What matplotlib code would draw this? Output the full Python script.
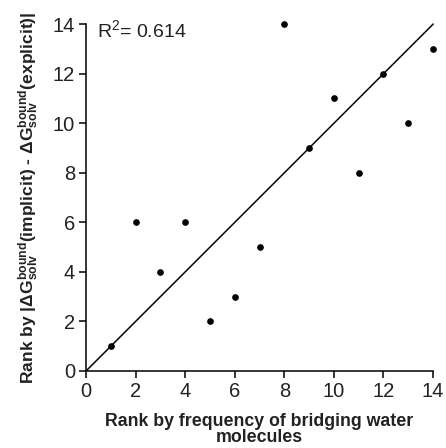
import matplotlib.pyplot as plt

plt.rcParams['font.family'] = ['Liberation Sans', 'DejaVu Sans']
plt.rcParams['mathtext.fontset'] = 'custom'
plt.rcParams['mathtext.rm'] = 'Liberation Sans'
plt.rcParams['mathtext.bf'] = 'Liberation Sans:bold'
plt.rcParams['mathtext.it'] = 'Liberation Sans:italic'

# rank pairs
rank_water = [1, 2, 3, 4, 5, 6, 7, 8, 9, 10, 11, 12, 13, 14]
rank_solv = [1, 6, 4, 6, 2, 3, 5, 14, 9, 11, 8, 12, 10, 13]
diag = [0, 14]
ticks = [0, 2, 4, 6, 8, 10, 12, 14]
r2_text = 'R$^2$= 0.614'

fig = plt.figure(figsize=(4.46, 4.48), dpi=100)
ax = fig.add_axes([0.193, 0.172, 0.778, 0.774])

ax.plot(diag, diag, color='black', linewidth=1.1, zorder=2, clip_on=False)
ax.plot(rank_water, rank_solv, 'o', color='black', markersize=3.8,
        zorder=3, clip_on=False)

ax.set_xlim(0, 14)
ax.set_ylim(0, 14)
ax.set_xticks(ticks)
ax.set_yticks(ticks)
ax.tick_params(direction='out', length=5, width=1.1, labelsize=14.5, pad=3,
               labelcolor='#222222')
for side in ['top', 'right']:
    ax.spines[side].set_visible(False)
for side in ['left', 'bottom']:
    ax.spines[side].set_linewidth(1.1)

ax.text(0.45, 13.75, r2_text, fontsize=14, va='center', ha='left',
        color='#222222')

ax.set_xlabel('Rank by frequency of bridging water\nmolecules',
              fontsize=12.8, fontweight='bold', linespacing=0.95,
              color='#222222', va='top')
ax.xaxis.set_label_coords(0.5, -0.12)
ax.set_ylabel(r'Rank by |ΔG$^{\mathbf{bound}}_{\mathbf{solv}}$(implicit) - '
              r'ΔG$^{\mathbf{bound}}_{\mathbf{solv}}$(explicit)|',
              fontsize=12.6, fontweight='bold', labelpad=8, color='#222222')

plt.savefig('out.png', dpi=100)
